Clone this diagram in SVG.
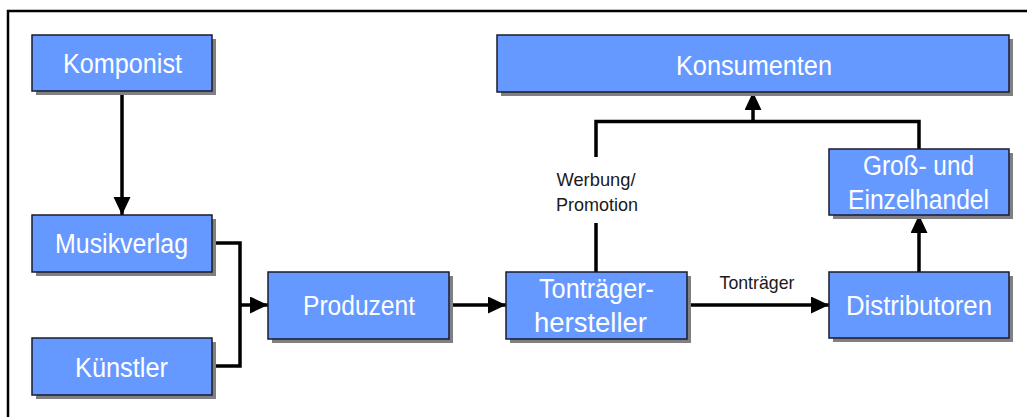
<svg xmlns="http://www.w3.org/2000/svg" width="1027" height="417" viewBox="0 0 1027 417">
<style>
.shadow{fill:#808080}
.box{fill:#6699FF;stroke:#1a1a2e;stroke-width:1.5}
.lbl{font-family:"Liberation Sans",Arial,sans-serif;font-size:27px;fill:#ffffff;text-anchor:middle}
.small{font-family:"Liberation Sans",Arial,sans-serif;font-size:19px;fill:#1a1a1a;text-anchor:middle}
.conn{fill:none;stroke:#000000;stroke-width:3.5}
</style>
<defs>
<marker id="arr" markerUnits="userSpaceOnUse" markerWidth="18" markerHeight="18" refX="18" refY="8.5" orient="auto">
<path d="M0,0 L18,8.5 L0,17 z" fill="#000000"/>
</marker>
</defs>
<rect x="0" y="0" width="1027" height="417" fill="#ffffff"/>
<path d="M8,417 V11 H1027" fill="none" stroke="#000000" stroke-width="2.5"/>

<g id="connectors">
<path class="conn" d="M122,91 V215" marker-end="url(#arr)"/>
<path class="conn" d="M212,243 H240 V366 H212"/>
<path class="conn" d="M240,305 H268" marker-end="url(#arr)"/>
<path class="conn" d="M449,305 H506" marker-end="url(#arr)"/>
<path class="conn" d="M687,305 H829" marker-end="url(#arr)"/>
<path class="conn" d="M919,272 V215" marker-end="url(#arr)"/>
<path class="conn" d="M596,272 V223"/>
<path class="conn" d="M596,157 V121.5 H919 V149"/>
<path class="conn" d="M753,121.5 V92" marker-end="url(#arr)"/>
<text class="small" x="596" y="186" textLength="79" lengthAdjust="spacingAndGlyphs">Werbung/</text>
<text class="small" x="597" y="211" textLength="82" lengthAdjust="spacingAndGlyphs">Promotion</text>
<text class="small" x="757" y="289" textLength="75" lengthAdjust="spacingAndGlyphs">Tonträger</text>
</g>

<g id="komponist">
<rect class="shadow" x="36" y="39" width="180" height="56"/>
<rect class="box" x="32" y="35" width="180" height="56"/>
<text class="lbl" x="122.5" y="73" textLength="119" lengthAdjust="spacingAndGlyphs">Komponist</text>
</g>
<g id="musikverlag">
<rect class="shadow" x="36" y="219" width="180" height="57"/>
<rect class="box" x="32" y="215" width="180" height="57"/>
<text class="lbl" x="121.5" y="253" textLength="133" lengthAdjust="spacingAndGlyphs">Musikverlag</text>
</g>
<g id="kuenstler">
<rect class="shadow" x="36" y="342" width="180" height="57"/>
<rect class="box" x="32" y="338" width="180" height="57"/>
<text class="lbl" x="121.5" y="377" textLength="93" lengthAdjust="spacingAndGlyphs">Künstler</text>
</g>
<g id="produzent">
<rect class="shadow" x="272" y="276" width="181" height="67"/>
<rect class="box" x="268" y="272" width="181" height="67"/>
<text class="lbl" x="359" y="315" textLength="112" lengthAdjust="spacingAndGlyphs">Produzent</text>
</g>
<g id="tontraegerhersteller">
<rect class="shadow" x="510" y="276" width="181" height="67"/>
<rect class="box" x="506" y="272" width="181" height="67"/>
<text class="lbl" x="596.5" y="298" textLength="115" lengthAdjust="spacingAndGlyphs">Tonträger-</text>
<text class="lbl" x="590.5" y="332" textLength="113" lengthAdjust="spacingAndGlyphs">hersteller</text>
</g>
<g id="konsumenten">
<rect class="shadow" x="501" y="39" width="512" height="57"/>
<rect class="box" x="497" y="35" width="512" height="57"/>
<text class="lbl" x="754" y="75" textLength="156" lengthAdjust="spacingAndGlyphs">Konsumenten</text>
</g>
<g id="grosshandel">
<rect class="shadow" x="833" y="153" width="180" height="66"/>
<rect class="box" x="829" y="149" width="180" height="66"/>
<text class="lbl" x="918.5" y="175" textLength="111" lengthAdjust="spacingAndGlyphs">Groß- und</text>
<text class="lbl" x="918.5" y="209" textLength="141" lengthAdjust="spacingAndGlyphs">Einzelhandel</text>
</g>
<g id="distributoren">
<rect class="shadow" x="833" y="276" width="180" height="66"/>
<rect class="box" x="829" y="272" width="180" height="66"/>
<text class="lbl" x="919" y="315" textLength="146" lengthAdjust="spacingAndGlyphs">Distributoren</text>
</g>
</svg>
